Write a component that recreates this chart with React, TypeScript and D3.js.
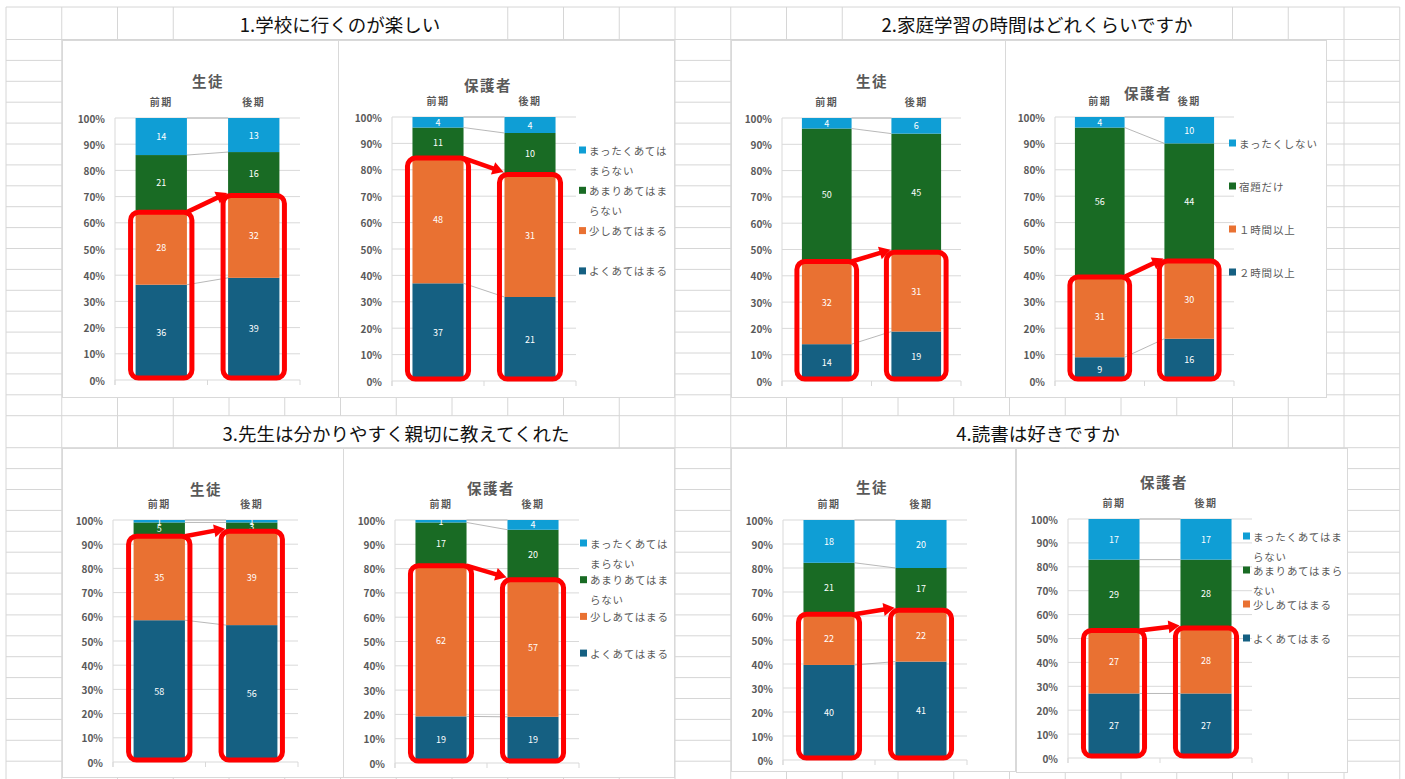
import React from "react";
import * as d3 from "d3";

// ---------- DATA ----------
const categories = ["前期", "後期"];
const agreeSeries = ["よくあてはまる", "少しあてはまる", "あまりあてはまらない", "まったくあてはまらない"];
const studySeries = ["２時間以上", "１時間以上", "宿題だけ", "まったくしない"];
const seriesColors = ["#156082", "#E97132", "#196B24", "#0F9ED5"];
const sectionTitles = [
  "1.学校に行くのが楽しい",
  "2.家庭学習の時間はどれくらいですか",
  "3.先生は分かりやすく親切に教えてくれた",
  "4.読書は好きですか",
];
const chartTitles = ["生徒", "保護者"];
const yTickValues = [0, 10, 20, 30, 40, 50, 60, 70, 80, 90, 100];

// values per category (前期, 後期), bottom segment first
const q1Student = [[36, 28, 21, 14], [39, 32, 16, 13]];
const q1Parent = [[37, 48, 11, 4], [21, 31, 10, 4]];
const q2Student = [[14, 32, 50, 4], [19, 31, 45, 6]];
const q2Parent = [[9, 31, 56, 4], [16, 30, 44, 10]];
const q3Student = [[58, 35, 5, 1], [56, 39, 3, 1]];
const q3Parent = [[19, 62, 17, 1], [19, 57, 20, 4]];
const q4Student = [[40, 22, 21, 18], [41, 22, 17, 20]];
const q4Parent = [[27, 27, 29, 17], [27, 28, 28, 17]];

// ---------- LAYOUT ----------
const W = 1405;
const H = 779;
const FONT = "'Noto Sans CJK JP', 'Noto Sans', sans-serif";
const GRID = "#d6d6d6";
const TXT = "#595959";

const colX0 = 6;
const colW = 55.75;
const colCount = 25;
const rowH = 20.9;

const charts = [
  { data: q1Student, series: agreeSeries, title: 0, frame: [62, 40, 338, 397], plot: [115, 300, 118, 380], t: [208, 80], catY: 101, legend: null },
  { data: q1Parent, series: agreeSeries, title: 1, frame: [338, 40, 674, 397], plot: [392, 576, 117, 381], t: [488, 84], catY: 100, legend: { x: 579, y0: 150, dy: 40.3, wrap: 7 } },
  { data: q2Student, series: studySeries, title: 0, frame: [731, 40, 1005, 397], plot: [782, 961, 118, 381], t: [872, 80], catY: 101, legend: null },
  { data: q2Parent, series: studySeries, title: 1, frame: [1005, 40, 1326, 397], plot: [1055, 1234, 117, 381], t: [1148, 92], catY: 100, legend: { x: 1229, y0: 143, dy: 43, wrap: 8 } },
  { data: q3Student, series: agreeSeries, title: 0, frame: [62, 448, 343, 777], plot: [113, 298, 520, 762], t: [206, 488], catY: 503, legend: null },
  { data: q3Parent, series: agreeSeries, title: 1, frame: [343, 448, 674, 777], plot: [395, 579, 520, 763], t: [491, 487], catY: 503, legend: { x: 580, y0: 543, dy: 36.7, wrap: 7 } },
  { data: q4Student, series: agreeSeries, title: 0, frame: [731, 448, 1015, 771], plot: [783, 967, 520, 760], t: [872, 486], catY: 503, legend: null },
  { data: q4Parent, series: agreeSeries, title: 1, frame: [1016, 448, 1347, 772], plot: [1068, 1252, 519, 758], t: [1164, 481], catY: 502, legend: { x: 1243, y0: 536, dy: 34, wrap: 8 } },
];

const sectionTitlePos = [
  [340, 24],
  [1037, 24],
  [396, 432.5],
  [1038, 432.5],
];

function Arrow({ x1, y1, x2, y2 }: { x1: number; y1: number; x2: number; y2: number }) {
  const dx = x2 - x1;
  const dy = y2 - y1;
  const L = Math.hypot(dx, dy);
  const ux = dx / L;
  const uy = dy / L;
  const head = 11;
  const hw = 6.5;
  const bx = x2 - ux * head;
  const by = y2 - uy * head;
  const pts = [
    [x2, y2],
    [bx - uy * hw, by + ux * hw],
    [bx + uy * hw, by - ux * hw],
  ];
  return (
    <g>
      <line x1={x1} y1={y1} x2={bx + ux * 2} y2={by + uy * 2} stroke="#FF0000" strokeWidth={4.5} strokeLinecap="butt" />
      <polygon points={pts.map((p) => p.join(",")).join(" ")} fill="#FF0000" />
    </g>
  );
}

function Chart({ c }: { c: any }) {
  const [px0, px1, py0, py1] = c.plot;
  const x = d3.scaleBand<string>().domain(categories).range([px0, px1]).padding(0);
  const y = d3.scaleLinear().domain([0, 1]).range([py1, py0]);
  const series: string[] = c.series;
  const rows = categories.map((cat, i) => {
    const o: any = { cat };
    series.forEach((s, j) => (o[s] = c.data[i][j]));
    return o;
  });
  const stacked = d3.stack<any>().keys(series).offset(d3.stackOffsetExpand)(rows);
  const bw = x.bandwidth() * 0.555;
  const barX = (cat: string) => (x(cat) as number) + (x.bandwidth() - bw) / 2;
  const [fx0, fy0, fx1, fy1] = c.frame;

  // red highlight boxes around bottom two segments
  const pad = 5;
  const boxes = categories.map((cat, i) => {
    const top = y(stacked[1][i][1]) + 1.5;
    const bottom = y(0) - 2;
    return { x: barX(cat) - pad, y: top, w: bw + 2 * pad, h: bottom - top };
  });
  const arrow = {
    x1: boxes[0].x + boxes[0].w - 5,
    y1: boxes[0].y,
    x2: boxes[1].x + 4,
    y2: boxes[1].y - 2.5,
  };

  const wrap = (s: string, n: number) => {
    const out: string[] = [];
    for (let i = 0; i < s.length; i += n) out.push(s.slice(i, i + n));
    return out;
  };

  return (
    <g>
      <rect x={fx0 + 0.5} y={fy0 + 0.5} width={fx1 - fx0} height={fy1 - fy0} fill="#fff" stroke="#d9d9d9" strokeWidth={1} />
      <text x={c.t[0]} y={c.t[1]} textAnchor="middle" dominantBaseline="central" fontSize={14.5} fontWeight={700} fill={TXT} letterSpacing={1.5}>
        {chartTitles[c.title]}
      </text>
      {categories.map((cat) => (
        <text key={cat} x={(x(cat) as number) + x.bandwidth() / 2} y={c.catY} textAnchor="middle" dominantBaseline="central" fontSize={10} fontWeight={700} fill={TXT} letterSpacing={1.5}>
          {cat}
        </text>
      ))}
      {/* gridlines */}
      {yTickValues.map((v) => (
        <line key={v} x1={px0} x2={px1} y1={y(v / 100)} y2={y(v / 100)} stroke="#d9d9d9" strokeWidth={1} />
      ))}
      <line x1={px0} x2={px0} y1={py0} y2={py1 + 5} stroke="#d9d9d9" strokeWidth={1} />
      {[0, 1, 2].map((k) => {
        const xx = px0 + k * x.bandwidth();
        return <line key={k} x1={xx} x2={xx} y1={py1} y2={py1 + 5} stroke="#d9d9d9" strokeWidth={1} />;
      })}
      {yTickValues.map((v) => (
        <text key={"l" + v} x={px0 - 10} y={y(v / 100)} textAnchor="end" dominantBaseline="central" fontSize={10} fontWeight={700} fill={TXT}>
          {v + "%"}
        </text>
      ))}
      {/* bars */}
      {stacked.map((layer, j) =>
        layer.map((d: any, i: number) => (
          <rect key={j + "-" + i} x={barX(categories[i])} y={y(d[1])} width={bw} height={y(d[0]) - y(d[1])} fill={seriesColors[j]} />
        ))
      )}
      {/* series lines */}
      {stacked.map((layer, j) => (
        <line key={"s" + j} x1={barX(categories[0]) + bw} y1={y(layer[0][1])} x2={barX(categories[1])} y2={y(layer[1][1])} stroke="#a6a6a6" strokeWidth={0.8} />
      ))}
      {/* data labels */}
      {stacked.map((layer, j) =>
        layer.map((d: any, i: number) => (
          <text key={"d" + j + "-" + i} x={barX(categories[i]) + bw / 2} y={y((d[0] + d[1]) / 2)} textAnchor="middle" dominantBaseline="central" fontSize={9} fill="#ffffff">
            {c.data[i][j]}
          </text>
        ))
      )}
      {/* legend */}
      {c.legend &&
        series
          .slice()
          .reverse()
          .map((s, k) => {
            const j = series.length - 1 - k;
            const yy = c.legend.y0 + k * c.legend.dy;
            const lines = wrap(s, c.legend.wrap);
            return (
              <g key={"lg" + k}>
                <rect x={c.legend.x} y={yy - 3.5} width={7} height={7} fill={seriesColors[j]} />
                {lines.map((ln, li) => (
                  <text key={li} x={c.legend.x + 10} y={yy + li * 20} dominantBaseline="central" fontSize={10.5} fill={TXT} letterSpacing={0.8}>
                    {ln}
                  </text>
                ))}
              </g>
            );
          })}
      {/* highlight */}
      {boxes.map((b, i) => (
        <rect key={"b" + i} x={b.x} y={b.y} width={b.w} height={b.h} rx={8} ry={8} fill="none" stroke="#FF0000" strokeWidth={5} />
      ))}
      <Arrow {...arrow} />
    </g>
  );
}

export default function App() {
  // spreadsheet grid
  const vx = d3.range(colCount + 1).map((k) => colX0 + k * colW);
  const topTitle = [7, 39.5];
  const topRows = d3.range(19).map((k) => 39.5 + k * rowH);
  const botTitle = [topRows[topRows.length - 1], topRows[topRows.length - 1] + 32];
  const botRows = d3.range(17).map((k) => botTitle[1] + k * rowH).filter((v) => v < H);
  const hy = [7, ...topRows, ...botRows];
  const skipTop = (k: number) => (k >= 4 && k <= 8) || (k >= 16 && k <= 21);
  const skipBot = (k: number) => (k >= 4 && k <= 10) || (k >= 16 && k <= 21);

  return (
    <svg width={W} height={H} style={{ position: "absolute", left: 0, top: 0, background: "#fff" }} fontFamily={FONT}>
      <rect x={0} y={0} width={W} height={H} fill="#fff" />
      {hy.map((v, i) => (
        <line key={"h" + i} x1={colX0} x2={vx[vx.length - 1]} y1={v} y2={v} stroke={GRID} strokeWidth={1} />
      ))}
      {vx.map((v, k) => (
        <g key={"v" + k}>
          {!skipTop(k) && <line x1={v} x2={v} y1={topTitle[0]} y2={topTitle[1]} stroke={GRID} strokeWidth={1} />}
          <line x1={v} x2={v} y1={topTitle[1]} y2={botTitle[0]} stroke={GRID} strokeWidth={1} />
          {!skipBot(k) && <line x1={v} x2={v} y1={botTitle[0]} y2={botTitle[1]} stroke={GRID} strokeWidth={1} />}
          <line x1={v} x2={v} y1={botTitle[1]} y2={H} stroke={GRID} strokeWidth={1} />
        </g>
      ))}
      {sectionTitles.map((t, i) => (
        <text key={"t" + i} x={sectionTitlePos[i][0]} y={sectionTitlePos[i][1]} textAnchor="middle" dominantBaseline="central" fontSize={18.5} fill="#111">
          {t}
        </text>
      ))}
      {charts.map((c, i) => (
        <Chart key={i} c={c} />
      ))}
    </svg>
  );
}
